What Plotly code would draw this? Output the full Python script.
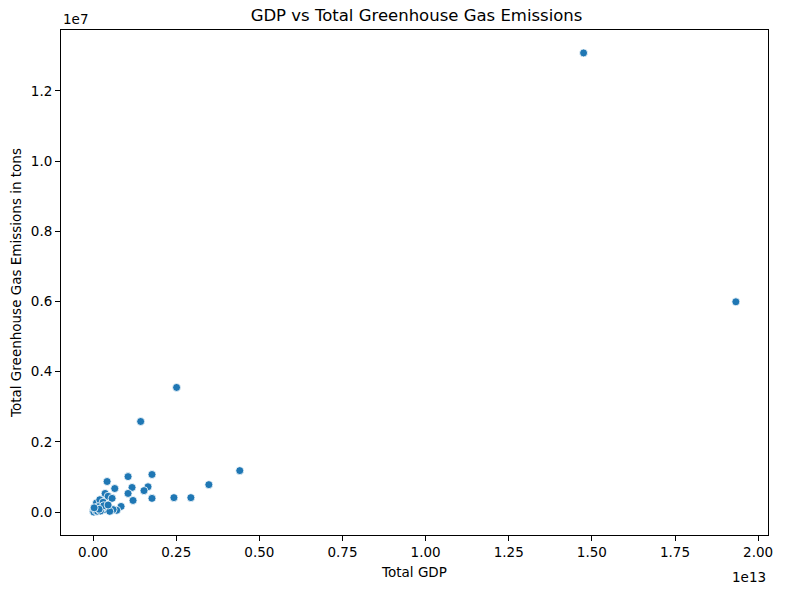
import plotly.graph_objects as go

# values (x in 1e13, y in 1e7)
gdp_e13 = [1.475, 1.933, 0.251, 0.143, 0.441, 0.348, 0.294, 0.243, 0.177, 0.165,
           0.153, 0.177, 0.105, 0.042, 0.065, 0.117, 0.105, 0.120, 0.036, 0.045,
           0.057, 0.084, 0.071, 0.057, 0.010, 0.029, 0.005, 0.035, 0.060, 0.000,
           0.020, 0.030, 0.015, 0.025, 0.040, 0.002, 0.008, 0.013, 0.022, 0.050,
           0.032, 0.045, 0.018, 0.003]
ghg_e7 = [1.308, 0.599, 0.355, 0.258, 0.118, 0.078, 0.041, 0.041, 0.107, 0.072,
          0.061, 0.039, 0.101, 0.087, 0.067, 0.070, 0.053, 0.033, 0.053, 0.045,
          0.039, 0.016, 0.005, 0.005, 0.026, 0.021, 0.007, 0.007, 0.007, 0.002,
          0.035, 0.028, 0.015, 0.010, 0.015, 0.000, 0.004, 0.002, 0.003, 0.002,
          0.018, 0.020, 0.008, 0.012]

x_ticks = [0.0, 0.25, 0.5, 0.75, 1.0, 1.25, 1.5, 1.75, 2.0]
y_ticks = [0.0, 0.2, 0.4, 0.6, 0.8, 1.0, 1.2]

gdp = [v * 1e13 for v in gdp_e13]
ghg = [v * 1e7 for v in ghg_e7]


def padded(vals, pad=0.05):
    lo, hi = min(vals), max(vals)
    span = hi - lo
    return [lo - pad * span, hi + pad * span]


fig = go.Figure()
fig.add_trace(go.Scatter(
    x=gdp, y=ghg, mode="markers",
    marker=dict(color="#1f77b4", size=8, line=dict(color="white", width=0.8)),
    showlegend=False,
))

axis_style = dict(
    showline=True, mirror=True, linecolor="black", linewidth=1,
    ticks="outside", ticklen=5, tickwidth=1, tickcolor="black",
    showgrid=False, zeroline=False,
    tickfont=dict(family="DejaVu Sans", size=13.5, color="black"),
)

fig.update_layout(
    width=788, height=590,
    paper_bgcolor="white", plot_bgcolor="white",
    margin=dict(l=61, r=20, t=30, b=51),
    font=dict(family="DejaVu Sans", size=13.5, color="black"),
    title=dict(text="GDP vs Total Greenhouse Gas Emissions", x=0.5286, xanchor="center",
               y=0.9746, yanchor="middle", font=dict(size=16.5, color="black")),
    xaxis=dict(axis_style, range=padded(gdp),
               tickvals=[v * 1e13 for v in x_ticks],
               ticktext=["%.2f" % v for v in x_ticks],
               title=dict(text="Total GDP", standoff=8,
                          font=dict(family="DejaVu Sans", size=13.5))),
    yaxis=dict(axis_style, range=padded(ghg),
               tickvals=[v * 1e7 for v in y_ticks],
               ticktext=["%.1f" % v for v in y_ticks],
               title=dict(text="Total Greenhouse Gas Emissions in tons", standoff=6,
                          font=dict(family="DejaVu Sans", size=13.5))),
    annotations=[
        dict(text="1e7", xref="paper", yref="paper", x=0, y=1, xanchor="left",
             yanchor="bottom", yshift=1, showarrow=False,
             font=dict(family="DejaVu Sans", size=13.5, color="black")),
        dict(text="1e13", xref="paper", yref="paper", x=1, y=0, xanchor="right",
             yanchor="top", yshift=-32, showarrow=False,
             font=dict(family="DejaVu Sans", size=13.5, color="black")),
    ],
)

# drop the page's default body margin so the figure fills the window exactly
fig.write_html("out.html", config={"displayModeBar": False},
               post_script="document.body.style.margin='0';document.body.style.overflow='hidden';")
